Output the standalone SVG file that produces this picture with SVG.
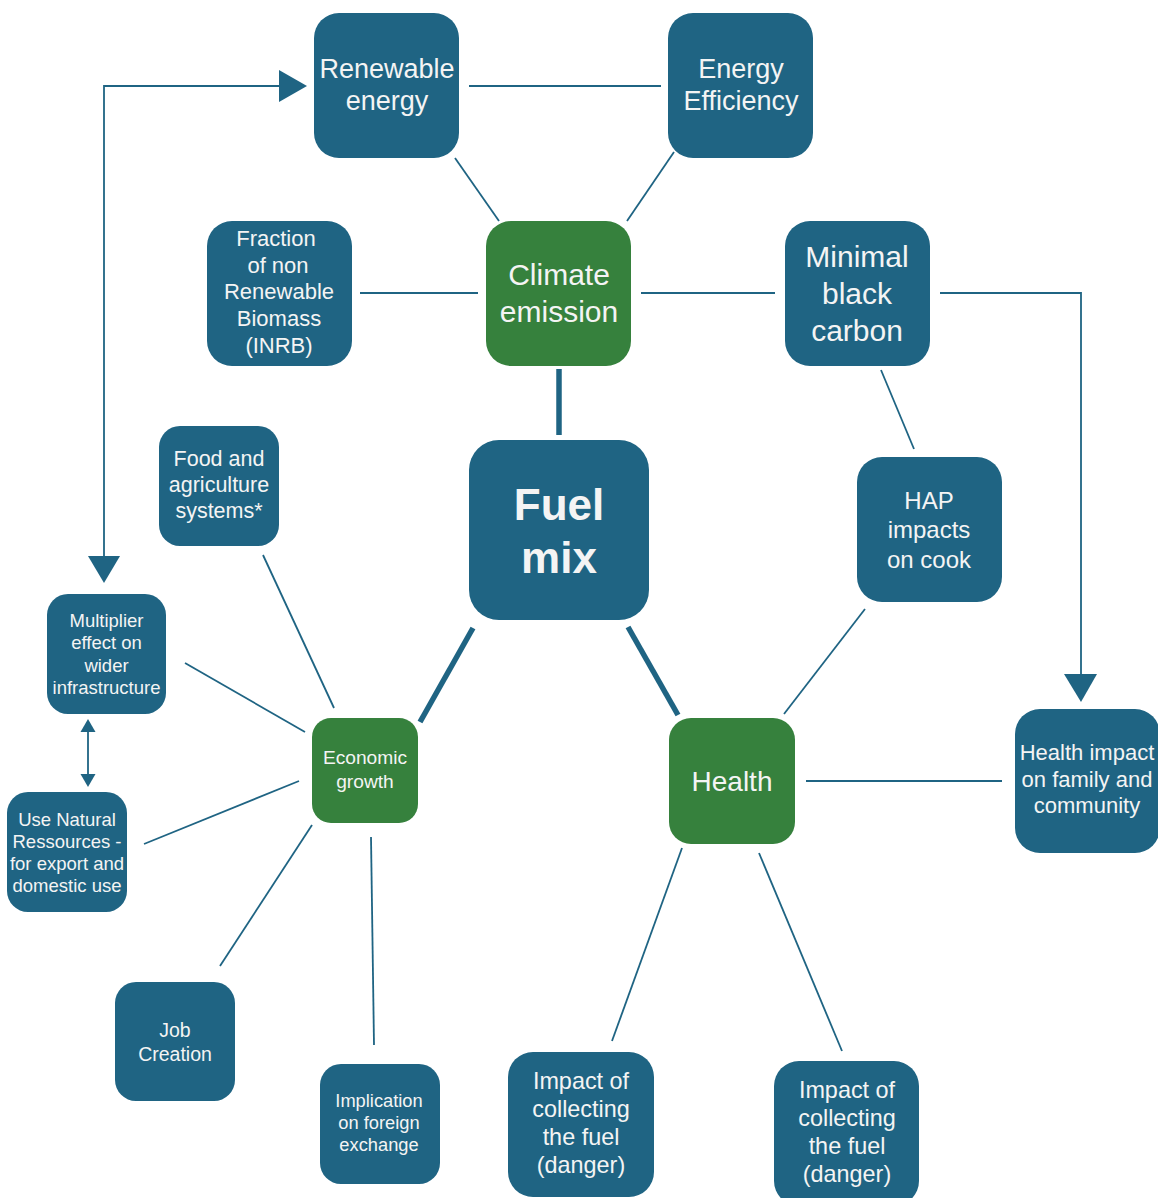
<svg xmlns="http://www.w3.org/2000/svg" width="1158" height="1198" viewBox="0 0 1158 1198">
<style>
.b{fill:#1f6483}
.g{fill:#36813d}
text{font-family:"Liberation Sans",Arial,sans-serif;fill:#f4f4f4;text-anchor:middle}
.ln{stroke:#1f6483;stroke-width:1.8;fill:none}
.tk{stroke:#1f6483;stroke-width:5.5;fill:none}
.ah{fill:#1f6483}
</style>
<rect width="1158" height="1198" fill="#ffffff"/>
<g id="connectors">
<line class="ln" x1="469" y1="86" x2="661" y2="86"/>
<line class="ln" x1="455" y1="158" x2="499" y2="221"/>
<line class="ln" x1="674" y1="152" x2="627" y2="221"/>
<line class="ln" x1="360" y1="293" x2="478" y2="293"/>
<line class="ln" x1="641" y1="293" x2="775" y2="293"/>
<line class="tk" x1="559" y1="369" x2="559" y2="435"/>
<line class="ln" x1="881" y1="370" x2="914" y2="449"/>
<polyline class="ln" points="940,293 1081,293 1081,676"/>
<polygon class="ah" points="1064,674 1097,674 1081,702"/>
<line class="tk" x1="473" y1="628" x2="420" y2="722"/>
<line class="tk" x1="628" y1="627" x2="678" y2="715"/>
<line class="ln" x1="865" y1="609" x2="784" y2="714"/>
<line class="ln" x1="806" y1="781" x2="1002" y2="781"/>
<line class="ln" x1="682" y1="848" x2="612" y2="1041"/>
<line class="ln" x1="759" y1="853" x2="842" y2="1051"/>
<line class="ln" x1="263" y1="555" x2="334" y2="708"/>
<line class="ln" x1="185" y1="663" x2="305" y2="732"/>
<line class="ln" x1="144" y1="844" x2="299" y2="781"/>
<line class="ln" x1="312" y1="825" x2="220" y2="966"/>
<line class="ln" x1="371" y1="837" x2="374" y2="1045"/>
<line class="ln" x1="88" y1="730" x2="88" y2="776"/>
<polygon class="ah" points="88,719 80.5,732 95.5,732"/>
<polygon class="ah" points="88,787 80.5,774 95.5,774"/>
<polyline class="ln" points="104,558 104,86 281,86"/>
<polygon class="ah" points="279,70 307,86 279,102"/>
<polygon class="ah" points="88,556 120,556 104,583"/>
</g>
<g id="renewable-energy">
<rect class="b" x="314" y="13" width="145" height="145" rx="25"/>
<text font-size="27"><tspan x="387" y="78">Renewable</tspan><tspan x="387" y="110">energy</tspan></text>
</g>
<g id="energy-efficiency">
<rect class="b" x="668" y="13" width="145" height="145" rx="25"/>
<text font-size="27"><tspan x="741" y="78">Energy</tspan><tspan x="741" y="110">Efficiency</tspan></text>
</g>
<g id="fraction-nrb">
<rect class="b" x="207" y="221" width="145" height="145" rx="25"/>
<text font-size="22"><tspan x="276" y="246">Fraction</tspan><tspan x="278" y="273">of non</tspan><tspan x="279" y="299">Renewable</tspan><tspan x="279" y="326">Biomass</tspan><tspan x="279" y="353">(INRB)</tspan></text>
</g>
<g id="climate-emission">
<rect class="g" x="486" y="221" width="145" height="145" rx="25"/>
<text font-size="30"><tspan x="559" y="285">Climate</tspan><tspan x="559" y="322">emission</tspan></text>
</g>
<g id="minimal-black-carbon">
<rect class="b" x="785" y="221" width="145" height="145" rx="25"/>
<text font-size="30"><tspan x="857" y="267">Minimal</tspan><tspan x="857" y="304">black</tspan><tspan x="857" y="341">carbon</tspan></text>
</g>
<g id="fuel-mix">
<rect class="b" x="469" y="440" width="180" height="180" rx="30"/>
<text font-size="44" font-weight="bold"><tspan x="559" y="520">Fuel</tspan><tspan x="559" y="573">mix</tspan></text>
</g>
<g id="food-agriculture">
<rect class="b" x="159" y="426" width="120" height="120" rx="21"/>
<text font-size="21.5"><tspan x="219" y="466">Food and</tspan><tspan x="219" y="492">agriculture</tspan><tspan x="219" y="518">systems*</tspan></text>
</g>
<g id="hap-impacts">
<rect class="b" x="857" y="457" width="145" height="145" rx="25"/>
<text font-size="24"><tspan x="929" y="509">HAP</tspan><tspan x="929" y="538">impacts</tspan><tspan x="929" y="568">on cook</tspan></text>
</g>
<g id="multiplier-effect">
<rect class="b" x="47" y="594" width="119" height="120" rx="21"/>
<text font-size="18.5"><tspan x="106.5" y="627">Multiplier</tspan><tspan x="106.5" y="649">effect on</tspan><tspan x="106.5" y="672">wider</tspan><tspan x="106.5" y="694">infrastructure</tspan></text>
</g>
<g id="economic-growth">
<rect class="g" x="312" y="718" width="106" height="105" rx="19"/>
<text font-size="19.2"><tspan x="365" y="764">Economic</tspan><tspan x="365" y="788">growth</tspan></text>
</g>
<g id="health">
<rect class="g" x="669" y="718" width="126" height="126" rx="22"/>
<text font-size="28" x="732" y="791">Health</text>
</g>
<g id="health-impact-family">
<rect class="b" x="1015" y="709" width="145" height="144" rx="25"/>
<text font-size="22"><tspan x="1087" y="760">Health impact</tspan><tspan x="1087" y="787">on family and</tspan><tspan x="1087" y="813">community</tspan></text>
</g>
<g id="use-natural-resources">
<rect class="b" x="7" y="792" width="120" height="120" rx="21"/>
<text font-size="18.5"><tspan x="67" y="826">Use Natural</tspan><tspan x="67" y="848">Ressources -</tspan><tspan x="67" y="870">for export and</tspan><tspan x="67" y="892">domestic use</tspan></text>
</g>
<g id="job-creation">
<rect class="b" x="115" y="982" width="120" height="119" rx="21"/>
<text font-size="19.5"><tspan x="175" y="1037">Job</tspan><tspan x="175" y="1061">Creation</tspan></text>
</g>
<g id="implication-foreign-exchange">
<rect class="b" x="320" y="1064" width="120" height="120" rx="21"/>
<text font-size="18.3"><tspan x="379" y="1107">Implication</tspan><tspan x="379" y="1129">on foreign</tspan><tspan x="379" y="1151">exchange</tspan></text>
</g>
<g id="impact-collecting-1">
<rect class="b" x="508" y="1052" width="146" height="145" rx="25"/>
<text font-size="23.4"><tspan x="581" y="1089">Impact of</tspan><tspan x="581" y="1117">collecting</tspan><tspan x="581" y="1145">the fuel</tspan><tspan x="581" y="1173">(danger)</tspan></text>
</g>
<g id="impact-collecting-2">
<rect class="b" x="774" y="1061" width="145" height="145" rx="25"/>
<text font-size="23.4"><tspan x="847" y="1098">Impact of</tspan><tspan x="847" y="1126">collecting</tspan><tspan x="847" y="1154">the fuel</tspan><tspan x="847" y="1182">(danger)</tspan></text>
</g>
</svg>
